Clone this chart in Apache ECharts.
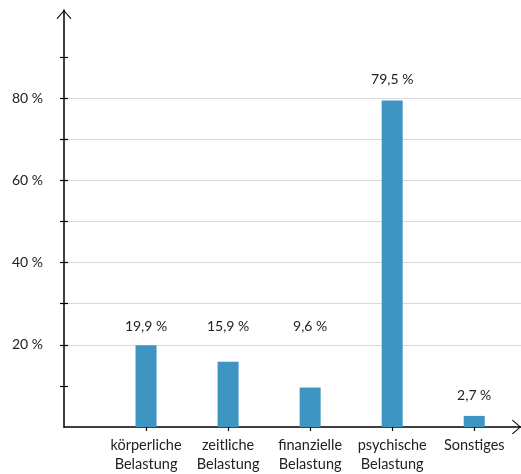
<!DOCTYPE html>
<html>
<head>
<meta charset="utf-8">
<script src="https://cdn.jsdelivr.net/npm/echarts@6/dist/echarts.min.js"></script>
<style>
  html, body { margin: 0; padding: 0; background: #fff; }
  #chart { width: 521px; height: 474px; }
</style>
</head>
<body>
<div id="chart"></div>
<script>
// Categories along the x axis (positions 1..5; position 0 stays empty)
const categories = [
  'körperliche\nBelastung',
  'zeitliche\nBelastung',
  'finanzielle\nBelastung',
  'psychische\nBelastung',
  'Sonstiges'
];
// Share of answers in percent
const values = [19.9, 15.9, 9.6, 79.5, 2.7];
// Height (in percent units) at which each value caption is set
const captionLevels = [24.4, 24.4, 24.4, 84.5, 7.7];
// Labelled y ticks and all y tick marks
const yLabelTicks = [20, 40, 60, 80];
const yTicks = [10, 20, 30, 40, 50, 60, 70, 80, 90];
const xTicks = [1, 2, 3, 4, 5];

const FONT = 'Lato, "Open Sans", sans-serif';
const TEXT = '#222222';
const BAR = '#3e95c1';

// open arrow head drawn at the end of both axes
const chevron = 'path://M0,9 L8,0 L16,9 L15.1,9.8 L8,1.5 L0.9,9.8 Z';

function fmtPct(v) {
  return String(v).replace('.', ',') + ' %';
}

const chart = echarts.init(document.getElementById('chart'), null, { renderer: 'canvas' });

const X_MAX = 5.57;
const Y_MAX = 101.5;

chart.setOption({
  animation: false,
  backgroundColor: '#fff',
  grid: { left: 64, right: -2, top: 10, bottom: 46, containLabel: false },
  xAxis: [
    {
      type: 'value', min: 0, max: X_MAX, interval: 1,
      axisLine: { show: true, lineStyle: { color: '#000', width: 1.5 },
        symbol: ['none', chevron], symbolSize: [16, 9], symbolOffset: [0, -4.5] },
      axisTick: { show: true, customValues: xTicks, length: 4, lineStyle: { color: '#000', width: 1.2 } },
      axisLabel: {
        customValues: xTicks, margin: 9,
        formatter: v => categories[v - 1] || '',
        fontFamily: FONT, fontSize: 14.5, color: TEXT, lineHeight: 19
      },
      splitLine: { show: false }
    },
    {
      type: 'value', min: 0, max: X_MAX, interval: 1, position: 'bottom', offset: 0,
      axisLine: { show: false },
      axisTick: { show: true, inside: true, customValues: xTicks, length: 4, lineStyle: { color: '#000', width: 1.2 } },
      axisLabel: { show: false },
      splitLine: { show: false }
    }
  ],
  yAxis: [
    {
      type: 'value', min: 0, max: Y_MAX, interval: 10,
      axisLine: { show: true, lineStyle: { color: '#000', width: 1.5 },
        symbol: ['none', chevron], symbolSize: [16, 9], symbolOffset: [0, -4.5] },
      axisTick: { show: true, customValues: yTicks, length: 4, lineStyle: { color: '#000', width: 1.2 } },
      axisLabel: {
        customValues: yLabelTicks, margin: 21,
        formatter: v => v + ' %',
        fontFamily: FONT, fontSize: 14, color: TEXT
      },
      splitLine: { show: true, showMinLine: false, showMaxLine: false, lineStyle: { color: '#d9d9d9', width: 1 } }
    },
    {
      type: 'value', min: 0, max: Y_MAX, interval: 10, position: 'left', offset: 0,
      axisLine: { show: false },
      axisTick: { show: true, inside: true, customValues: yTicks, length: 4, lineStyle: { color: '#000', width: 1.2 } },
      axisLabel: { show: false },
      splitLine: { show: false }
    }
  ],
  series: [
    {
      type: 'bar',
      xAxisIndex: 0, yAxisIndex: 0,
      barWidth: 21,
      itemStyle: { color: BAR },
      data: values.map((v, i) => [i + 1, v]),
      z: 1
    },
    {
      type: 'scatter',
      xAxisIndex: 0, yAxisIndex: 0,
      symbolSize: 0,
      silent: true,
      itemStyle: { opacity: 1 },
      data: captionLevels.map((lv, i) => [i + 1, lv]),
      label: {
        show: true, position: 'inside', opacity: 1,
        formatter: p => fmtPct(values[p.dataIndex]),
        fontFamily: FONT, fontSize: 14, color: TEXT
      }
    }
  ]
});
</script>
</body>
</html>
